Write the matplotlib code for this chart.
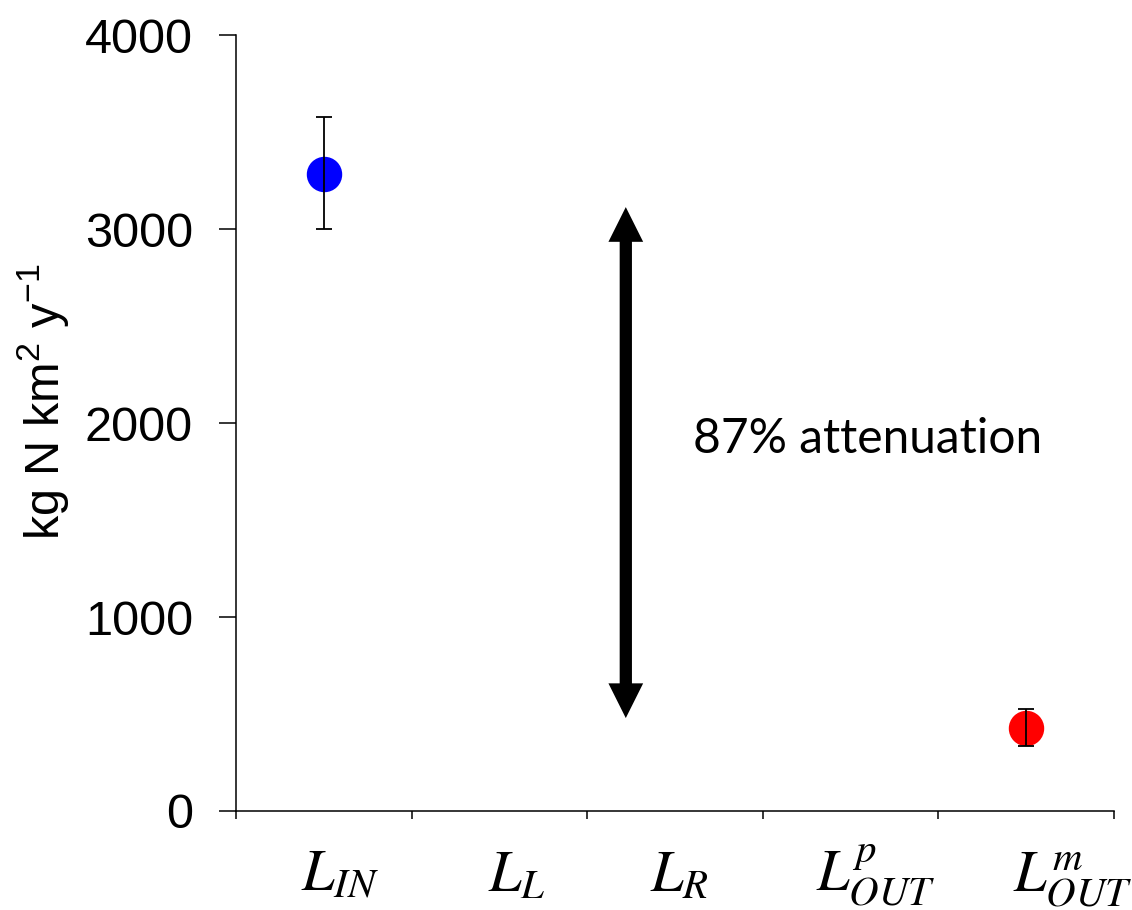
import matplotlib
matplotlib.use("Agg")
import matplotlib.pyplot as plt
import matplotlib.transforms as mtransforms
from matplotlib.patches import FancyArrowPatch

# --- dados ---
categorias = [r"$L_{IN}$", r"$L_{L}$", r"$L_{R}$", r"$L_{OUT}^{p}$", r"$L_{OUT}^{m}$"]
pos_pontos = [0.5, 4.5]           # centro das categorias L_IN e L_OUT^m
valores = [3283, 428]
erro_inf = [283, 93]
erro_sup = [294, 98]
cores = ["#0000ff", "#ff0000"]

seta_x = 2.22
seta_y = (479, 3113)
texto = "87% attenuation"
texto_pos = (2.6, 1845)

y_ticks = [0, 1000, 2000, 3000, 4000]

plt.rcParams["font.family"] = ["Liberation Sans", "DejaVu Sans"]
plt.rcParams["mathtext.fontset"] = "custom"
plt.rcParams["mathtext.rm"] = "Liberation Sans"
plt.rcParams["mathtext.it"] = "Liberation Sans:italic"

fig = plt.figure(figsize=(11.32, 9.10), dpi=100)
ax = fig.add_axes([0.2085, 0.1088, 0.7755, 0.8527])

# marcadores e barras de erro (barras por cima do marcador)
for x, v, ei, es, c in zip(pos_pontos, valores, erro_inf, erro_sup, cores):
    ax.plot([x], [v], "o", color=c, markersize=24.5, zorder=2)
    ax.errorbar([x], [v], yerr=[[ei], [es]], fmt="none", ecolor="black",
                elinewidth=1.3, capsize=5.8, capthick=1.3, zorder=3)

# seta dupla: duas setas "simple" em sentidos opostos; a cauda de cada uma
# termina dentro da ponta da outra (shrinkA < head_length)
for a, b in [seta_y, seta_y[::-1]]:
    ax.add_patch(FancyArrowPatch(
        (seta_x, a), (seta_x, b),
        arrowstyle="simple,head_length=25,head_width=25,tail_width=8.6",
        mutation_scale=1, color="black", lw=0, shrinkA=18, shrinkB=0, zorder=4))

ax.text(texto_pos[0], texto_pos[1], texto, fontsize=34.5, family="Lato",
        ha="left", va="baseline")

ax.set_xlim(0, 5)
ax.set_ylim(0, 4000)
ax.set_yticks(y_ticks)
ax.set_yticklabels([str(t) for t in y_ticks], fontsize=35)

ax.set_xticks(range(6))
ax.set_xticklabels([])
ax.set_xticks([i + 0.5 for i in range(len(categorias))], minor=True)
ax.set_xticklabels(categorias, minor=True, fontsize=42, math_fontfamily="stix",
                   va="baseline")

ax.tick_params(axis="y", length=12, width=1.1, pad=19, direction="out")
ax.tick_params(axis="x", which="major", length=6, width=1.1, direction="out")
ax.tick_params(axis="x", which="minor", length=0, pad=57.6)

# os rótulos do original estão um pouco deslocados à direita
deslocamento_px = [16, 18, 5, 25, 47]
for lab, dx in zip(ax.xaxis.get_minorticklabels(), deslocamento_px):
    lab.set_transform(lab.get_transform() +
                      mtransforms.ScaledTranslation(dx / 100, 0, fig.dpi_scale_trans))

ax.set_ylabel(r"kg N km$^{2}$ y$^{-1}$", fontsize=35)
ax.yaxis.set_label_coords(-0.188, 0.527)

for lado in ["top", "right"]:
    ax.spines[lado].set_visible(False)
for lado in ["left", "bottom"]:
    ax.spines[lado].set_linewidth(1.1)

fig.savefig("out.png", dpi=100)
